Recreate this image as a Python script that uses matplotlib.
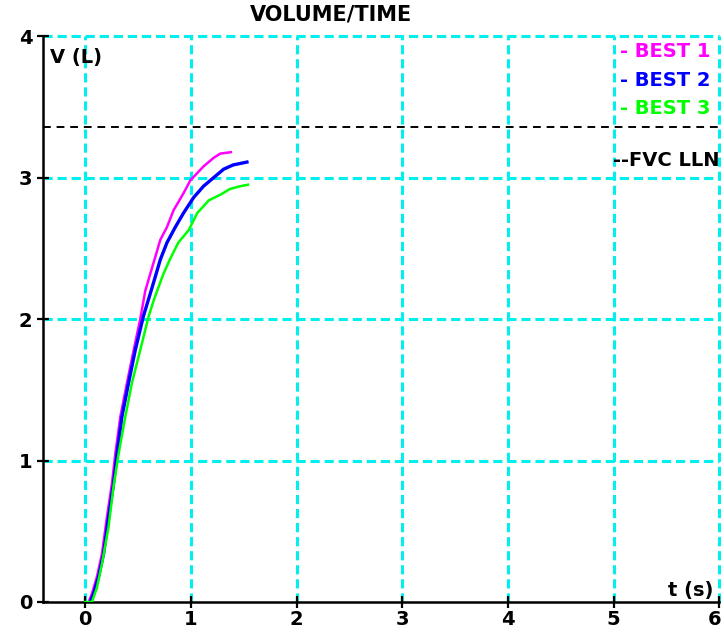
import matplotlib
matplotlib.use("Agg")
import matplotlib.pyplot as plt
from matplotlib.transforms import ScaledTranslation

# spirometry volume/time curves
t_best1 = [0.032, 0.064, 0.111, 0.158, 0.205, 0.253, 0.285, 0.332, 0.395, 0.458, 0.52,
           0.568, 0.615, 0.663, 0.71, 0.773, 0.836, 0.93, 0.994, 1.12, 1.215, 1.278, 1.378]
v_best1 = [0.0, 0.06, 0.18, 0.34, 0.60, 0.84, 1.05, 1.31, 1.55, 1.78, 2.0,
           2.20, 2.32, 2.44, 2.56, 2.65, 2.77, 2.89, 2.98, 3.08, 3.14, 3.17, 3.18]

t_best2 = [0.047, 0.079, 0.126, 0.173, 0.22, 0.268, 0.30, 0.347, 0.41, 0.473, 0.55,
           0.615, 0.663, 0.71, 0.773, 0.852, 0.93, 1.026, 1.12, 1.215, 1.31, 1.40, 1.53]
v_best2 = [0.0, 0.06, 0.18, 0.34, 0.60, 0.84, 1.05, 1.31, 1.55, 1.78, 2.02,
           2.18, 2.30, 2.42, 2.54, 2.65, 2.75, 2.86, 2.94, 3.0, 3.06, 3.09, 3.11]

t_best3 = [0.0, 0.063, 0.11, 0.158, 0.22, 0.268, 0.316, 0.379, 0.442, 0.52, 0.60, 0.647,
           0.695, 0.74, 0.80, 0.88, 0.98, 1.06, 1.17, 1.28, 1.37, 1.47, 1.54]
v_best3 = [0.0, 0.0, 0.10, 0.27, 0.53, 0.82, 1.05, 1.31, 1.55, 1.78, 2.02, 2.13,
           2.23, 2.32, 2.42, 2.54, 2.63, 2.75, 2.84, 2.88, 2.92, 2.94, 2.95]

fvc_lln = 3.36
x_ticks = [0, 1, 2, 3, 4, 5, 6]
y_ticks = [0, 1, 2, 3, 4]

fig = plt.figure(figsize=(7.24, 6.35), dpi=100)
ax = fig.add_axes([0.0594, 0.052, 0.934, 0.891])

grid_kw = dict(color="#00F0F0", linestyle=(0, (3, 1.6)), linewidth=2.2, zorder=1, clip_on=False)
for x in x_ticks:
    ax.plot([x, x], [0, 4], **grid_kw)
for y in y_ticks[1:]:
    ax.plot([-0.4, 6], [y, y], **grid_kw)

ax.axhline(fvc_lln, color="black", linestyle=(0, (4, 3)), linewidth=1.4, zorder=2)

ax.plot(t_best1, v_best1, color="#FF00FF", linewidth=1.8, zorder=3)
ax.plot(t_best2, v_best2, color="#0000FF", linewidth=2.4, zorder=4)
ax.plot(t_best3, v_best3, color="#00FF00", linewidth=1.8, zorder=5)

ax.set_xlim(-0.4, 6.0)
ax.set_ylim(0, 4.0)
ax.set_xticks(x_ticks)
ax.set_yticks(y_ticks)
for s in ["top", "right"]:
    ax.spines[s].set_visible(False)
for s in ["left", "bottom"]:
    ax.spines[s].set_linewidth(1.8)
ax.tick_params(direction="inout", length=8, width=1.6, labelsize=14)
ax.tick_params(axis="x", pad=2)
for lab in ax.get_xticklabels() + ax.get_yticklabels():
    lab.set_fontweight("bold")

# last x label sits right at the figure edge, pull it in a little
last = ax.get_xticklabels()[-1]
last.set_transform(last.get_transform() + ScaledTranslation(-5 / 100, 0, fig.dpi_scale_trans))

bold = dict(fontweight="bold", fontsize=14)
ax.text(-0.33, 3.85, "V (L)", ha="left", va="center", **bold)
ax.text(5.94, 0.08, "t (s)", ha="right", va="center", **bold)

leg_x = 5.06
ax.text(leg_x, 3.89, "- BEST 1", color="#FF00FF", ha="left", va="center", **bold)
ax.text(leg_x, 3.69, "- BEST 2", color="#0000FF", ha="left", va="center", **bold)
ax.text(leg_x, 3.49, "- BEST 3", color="#00FF00", ha="left", va="center", **bold)
ax.text(4.99, 3.12, "--FVC LLN", color="black", ha="left", va="center", **bold)

fig.text(331 / 724, 1 - 14 / 635, "VOLUME/TIME", ha="center", va="center",
         fontweight="bold", fontsize=15)

fig.savefig("out.png", dpi=100)
